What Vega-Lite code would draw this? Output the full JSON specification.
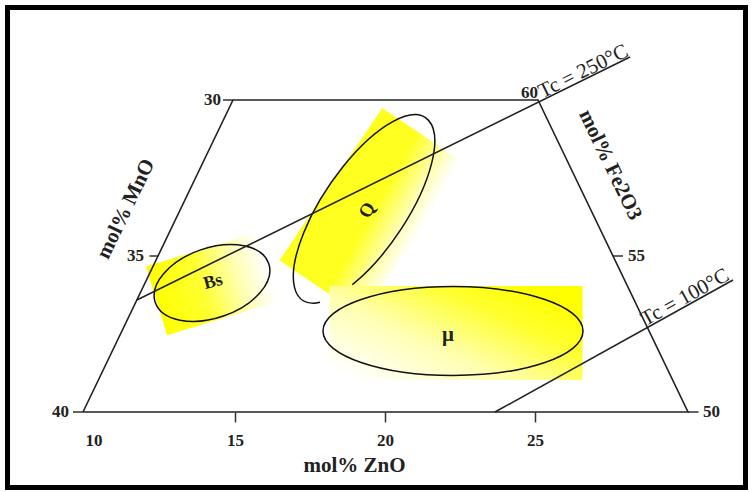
{
  "$schema": "https://vega.github.io/schema/vega-lite/v6.json",
  "autosize": "none",
  "width": 600,
  "height": 312,
  "padding": {"left": 85, "top": 100, "right": 68, "bottom": 80},
  "background": "white",
  "config": {"view": {"stroke": null}},
  "datasets": {
    "frame": [
      {"x": 9.933, "y": 50, "o": 1},
      {"x": 14.933, "y": 60, "o": 2},
      {"x": 25.1, "y": 60, "o": 3},
      {"x": 30.1, "y": 50, "o": 4},
      {"x": 9.933, "y": 50, "o": 5}
    ],
    "isotherms": [
      {"name": "Tc = 250°C", "x": 11.73, "y": 53.59, "x2": 28.167, "y2": 61.378},
      {"name": "Tc = 100°C", "x": 23.667, "y": 50, "x2": 31.6, "y2": 54.231}
    ],
    "sideTicks": [
      {"x": 14.6, "x2": 14.933, "y": 60},
      {"x": 12.15, "x2": 12.433, "y": 55},
      {"x": 9.6, "x2": 9.933, "y": 50},
      {"x": 27.6, "x2": 27.933, "y": 55},
      {"x": 30.1, "x2": 30.45, "y": 50}
    ],
    "leftLabels": [
      {"t": "30", "x": 14.533, "y": 60},
      {"t": "35", "x": 11.967, "y": 55},
      {"t": "40", "x": 9.467, "y": 50}
    ],
    "rightLabels": [
      {"t": "60", "x": 24.533, "y": 60.22},
      {"t": "55", "x": 28.1, "y": 55},
      {"t": "50", "x": 30.6, "y": 50}
    ],
    "patches": [
      {"name": "Bs", "x": 14.233, "y": 54.103},
      {"name": "Q", "x": 19.567, "y": 56.41},
      {"name": "μ", "x": 22.367, "y": 52.532}
    ],
    "regions": [
      {"name": "Bs", "x": 14.233, "y": 54.135},
      {"name": "Q", "x": 19.3, "y": 56.506},
      {"name": "μ", "x": 22.267, "y": 52.596}
    ],
    "regionLabels": [
      {"name": "Bs", "x": 14.267, "y": 54.167},
      {"name": "Q", "x": 19.4, "y": 56.474},
      {"name": "μ", "x": 22.1, "y": 52.47}
    ],
    "titles": [
      {"name": "MnO", "text": "mol% MnO", "x": 11.367, "y": 56.506},
      {"name": "Fe2O3", "text": "mol% Fe2O3", "x": 27.5, "y": 57.917},
      {"name": "250", "text": "Tc = 250°C", "x": 26.7, "y": 60.74},
      {"name": "100", "text": "Tc = 100°C", "x": 30.1, "y": 53.5}
    ],
    "border": [
      {"x": 7.417, "x2": 32.017, "y": 62.965, "y2": 47.58}
    ]
  },
  "encoding": {
    "x": {
      "field": "x", "type": "quantitative",
      "scale": {"domain": [10, 30], "nice": false, "zero": false},
      "axis": {
        "title": "mol% ZnO",
        "values": [10, 15, 20, 25],
        "domain": false, "grid": false,
        "tickSize": 10, "tickColor": "#333", "tickWidth": 1.5,
        "tickOpacity": {"condition": {"test": "datum.value === 10", "value": 0}, "value": 1},
        "labelFont": "Liberation Serif", "labelFontWeight": "bold", "labelFontSize": 17,
        "labelColor": "#222", "labelPadding": 10,
        "titleFont": "Liberation Serif", "titleFontWeight": "bold", "titleFontSize": 21,
        "titleColor": "#222", "titleX": 269, "titleY": 59, "titleBaseline": "alphabetic", "titleAlign": "center"
      }
    },
    "y": {
      "field": "y", "type": "quantitative",
      "scale": {"domain": [50, 60], "nice": false, "zero": false},
      "axis": null
    }
  },
  "layer": [
    {
      "data": {"name": "patches"},
      "transform": [{"filter": "datum.name === 'Bs'"}],
      "mark": {
        "type": "point", "filled": true, "opacity": 1, "strokeWidth": 0,
        "shape": "M -1 -0.62 L 1 -0.62 L 1 0.62 L -1 0.62 Z",
        "size": 13456, "angle": 343,
        "fill": {"gradient": "linear", "x1": 0, "y1": 0.5, "x2": 1, "y2": 0.5,
          "stops": [{"offset": 0, "color": "#ffff00"}, {"offset": 0.4, "color": "#ffff30"}, {"offset": 0.75, "color": "#ffffb8"}, {"offset": 1, "color": "#ffffff"}]}
      }
    },
    {
      "data": {"name": "patches"},
      "transform": [{"filter": "datum.name === 'Q'"}],
      "mark": {
        "type": "point", "filled": true, "opacity": 1, "strokeWidth": 0,
        "shape": "M -1 -0.54 L 1 -0.54 L 1 0.54 L -1 0.54 Z",
        "size": 33856, "angle": 304,
        "fill": {"gradient": "linear", "x1": 0.45, "y1": 0, "x2": 0.6, "y2": 1,
          "stops": [{"offset": 0, "color": "#ffff20"}, {"offset": 0.5, "color": "#ffff20"}, {"offset": 0.8, "color": "#ffffb0"}, {"offset": 1, "color": "#ffffff"}]}
      }
    },
    {
      "data": {"name": "patches"},
      "transform": [{"filter": "datum.name === 'μ'"}],
      "mark": {
        "type": "point", "filled": true, "opacity": 1, "strokeWidth": 0,
        "shape": "M -1 -0.3715 L 1 -0.3715 L 1 0.3715 L -1 0.3715 Z",
        "size": 64009, "angle": 0,
        "fill": {"gradient": "linear", "x1": 0, "y1": 0.85, "x2": 0.9, "y2": 0.15,
          "stops": [{"offset": 0, "color": "#ffffff"}, {"offset": 0.4, "color": "#ffffb0"}, {"offset": 0.75, "color": "#ffff30"}, {"offset": 1, "color": "#ffff00"}]}
      }
    },
    {
      "data": {"name": "regions"},
      "transform": [{"filter": "datum.name === 'Bs'"}],
      "mark": {
        "type": "point", "filled": false, "opacity": 1, "stroke": "#111", "strokeWidth": 1.5,
        "shape": "M -1 0 A 1 0.583 0 1 1 1 0 A 1 0.583 0 1 1 -1 0 Z",
        "size": 14400, "angle": 341
      }
    },
    {
      "data": {"name": "regions"},
      "transform": [{"filter": "datum.name === 'Q'"}],
      "mark": {
        "type": "point", "filled": false, "opacity": 1, "stroke": "#111", "strokeWidth": 1.5,
        "shape": "M -0.927 0.143 A 1 0.382 0 1 1 -0.629 0.297",
        "size": 48400, "angle": 304
      }
    },
    {
      "data": {"name": "regions"},
      "transform": [{"filter": "datum.name === 'μ'"}],
      "mark": {
        "type": "point", "filled": false, "opacity": 1, "stroke": "#111", "strokeWidth": 1.5,
        "shape": "M -1 0 A 1 0.342 0 1 1 1 0 A 1 0.342 0 1 1 -1 0 Z",
        "size": 67600, "angle": 0
      }
    },
    {
      "data": {"name": "frame"},
      "mark": {"type": "line", "color": "#222", "strokeWidth": 1.6},
      "encoding": {"order": {"field": "o", "type": "quantitative"}}
    },
    {
      "data": {"name": "isotherms"},
      "mark": {"type": "rule", "color": "#222", "strokeWidth": 1.6},
      "encoding": {"x2": {"field": "x2"}, "y2": {"field": "y2"}}
    },
    {
      "data": {"name": "sideTicks"},
      "mark": {"type": "rule", "color": "#222", "strokeWidth": 1.4},
      "encoding": {"x2": {"field": "x2"}}
    },
    {
      "data": {"name": "leftLabels"},
      "mark": {"type": "text", "align": "right", "baseline": "middle", "font": "Liberation Serif", "fontWeight": "bold", "fontSize": 17, "color": "#222"},
      "encoding": {"text": {"field": "t"}}
    },
    {
      "data": {"name": "rightLabels"},
      "mark": {"type": "text", "align": "left", "baseline": "middle", "font": "Liberation Serif", "fontWeight": "bold", "fontSize": 17, "color": "#222"},
      "encoding": {"text": {"field": "t"}}
    },
    {
      "data": {"name": "titles"},
      "transform": [{"filter": "datum.name === 'MnO'"}],
      "mark": {"type": "text", "align": "center", "baseline": "middle", "angle": 295.7, "font": "Liberation Serif", "fontWeight": "bold", "fontSize": 21, "color": "#222"},
      "encoding": {"text": {"field": "text"}}
    },
    {
      "data": {"name": "titles"},
      "transform": [{"filter": "datum.name === 'Fe2O3'"}],
      "mark": {"type": "text", "align": "center", "baseline": "middle", "angle": 64.3, "font": "Liberation Serif", "fontWeight": "bold", "fontSize": 21, "color": "#222"},
      "encoding": {"text": {"field": "text"}}
    },
    {
      "data": {"name": "titles"},
      "transform": [{"filter": "datum.name === '250'"}],
      "mark": {"type": "text", "align": "center", "baseline": "alphabetic", "angle": 333.7, "font": "Liberation Serif", "fontSize": 21, "color": "#222"},
      "encoding": {"text": {"field": "text"}}
    },
    {
      "data": {"name": "titles"},
      "transform": [{"filter": "datum.name === '100'"}],
      "mark": {"type": "text", "align": "center", "baseline": "alphabetic", "angle": 331, "font": "Liberation Serif", "fontSize": 21, "color": "#222"},
      "encoding": {"text": {"field": "text"}}
    },
    {
      "data": {"name": "regionLabels"},
      "transform": [{"filter": "datum.name === 'Bs'"}],
      "mark": {"type": "text", "align": "center", "baseline": "middle", "angle": 345, "font": "Liberation Serif", "fontWeight": "bold", "fontSize": 18, "color": "#222"},
      "encoding": {"text": {"field": "name"}}
    },
    {
      "data": {"name": "regionLabels"},
      "transform": [{"filter": "datum.name === 'Q'"}],
      "mark": {"type": "text", "align": "center", "baseline": "middle", "angle": 300, "font": "Liberation Serif", "fontWeight": "bold", "fontSize": 19, "color": "#222"},
      "encoding": {"text": {"field": "name"}}
    },
    {
      "data": {"name": "regionLabels"},
      "transform": [{"filter": "datum.name === 'μ'"}],
      "mark": {"type": "text", "align": "center", "baseline": "middle", "font": "Liberation Serif", "fontWeight": "bold", "fontSize": 21, "color": "#222"},
      "encoding": {"text": {"field": "name"}}
    },
    {
      "data": {"name": "border"},
      "mark": {"type": "rect", "fillOpacity": 0, "fill": "white", "stroke": "black", "strokeWidth": 5},
      "encoding": {"x2": {"field": "x2"}, "y2": {"field": "y2"}}
    }
  ]
}
